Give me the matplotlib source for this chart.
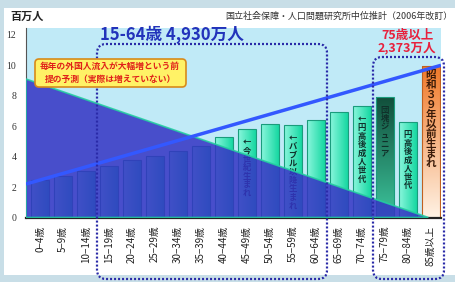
import matplotlib.pyplot as plt
import numpy as np
from matplotlib.colors import LinearSegmentedColormap
from matplotlib.patches import FancyBboxPatch, Polygon, Rectangle

plt.rcParams['font.family'] = ['Noto Sans CJK JP', 'DejaVu Sans']

# ---------------------------------------------------------------------------
# Data
# ---------------------------------------------------------------------------

ages = ["0−4歳", "5−9歳", "10−14歳", "15−19歳", "20−24歳", "25−29歳",
        "30−34歳", "35−39歳", "40−44歳", "45−49歳", "50−54歳", "55−59歳",
        "60−64歳", "65−69歳", "70−74歳", "75−79歳", "80−84歳", "85歳以上"]
population = [2.47, 2.73, 3.08, 3.39, 3.78, 4.05, 4.36, 4.72, 5.3,
              5.8, 6.15, 6.1, 6.4, 6.9, 7.3, 7.9, 6.3, 9.95]

note_ages = ["45−49歳", "55−59歳", "70−74歳", "75−79歳", "80−84歳", "85歳以上"]
note_texts = ["←今世紀生まれ", "←バブル以降生まれ", "←円高後成人世代",
              "団塊ジュニア", "円高後成人世代", "昭和３９年以前生まれ"]

# straight trend line and shaded wedge (x in category units, y in 百万人)
trend_x = [-0.61, 17.45]
trend_y = [2.2, 10.0]
wedge_x = [-0.61, -0.61, 16.9]
wedge_y = [0.0, 9.1, 0.0]

GREEN = ["#8af6dc", "#16d8a2"]
DARK = ["#3cc49c", "#12503c"]
ORANGE = ["#fff2e4", "#f07a2a"]


def gradient_fill(ax, bar, colors, horizontal=False):
    x0, y0 = bar.get_xy()
    w, h = bar.get_width(), bar.get_height()
    cmap = LinearSegmentedColormap.from_list("g", colors)
    grad = np.linspace(0, 1, 64)
    img = grad.reshape(1, -1) if horizontal else grad.reshape(-1, 1)
    im = ax.imshow(img, cmap=cmap, extent=[x0, x0 + w, y0, y0 + h],
                   origin="lower", aspect="auto", zorder=2,
                   interpolation="bilinear")
    im.set_clip_path(bar)


fig = plt.figure(figsize=(4.55, 2.82), dpi=100)
fig.patch.set_facecolor("#c8dee7")

# white panel behind everything
bg = fig.add_axes([0, 0, 1, 1], zorder=-1)
bg.set_xlim(0, 455)
bg.set_ylim(282, 0)
bg.axis("off")
bg.add_patch(Rectangle((4, 8), 451, 267, fc="white", ec="none"))

ax = fig.add_axes([26 / 455, 1 - 217.5 / 282, 415 / 455, 189.5 / 282], zorder=1)
ax.set_facecolor("#c0eaf7")

x = np.arange(len(ages))
bars = ax.bar(x, population, width=0.78, facecolor="none",
              edgecolor="#1a9c7c", linewidth=0.8, zorder=2.5)
for i, bar in enumerate(bars):
    if ages[i] == "75−79歳":
        gradient_fill(ax, bar, DARK)
    elif ages[i] == "85歳以上":
        gradient_fill(ax, bar, ORANGE)
        bar.set_edgecolor("#c06020")
    else:
        gradient_fill(ax, bar, GREEN, horizontal=True)

for age, note in zip(note_ages, note_texts):
    i = ages.index(age)
    big = age == "85歳以上"
    ax.annotate("\n".join(note), (i, population[i]),
                xytext=(0, -3 if big else -6),
                textcoords="offset points", ha="center", va="top",
                fontsize=7.6 if big else 6.0, fontweight="bold",
                linespacing=0.98 if big else 0.94,
                color="#3a1a08" if big else "#10302a", zorder=3)

ax.add_patch(Polygon(np.column_stack([wedge_x, wedge_y]), closed=True,
                     fc="#3434c4", ec="#22d0a0", lw=1.2, alpha=0.86, zorder=4))
ax.plot(trend_x, trend_y, color="#3358ff", lw=2.5, zorder=5,
        solid_capstyle="butt")

ax.set_xlim(-0.61, 17.45)
ax.set_ylim(0, 12.45)
ax.set_xticks(x, ages, rotation=90, fontsize=7)
ax.set_yticks(range(0, 13, 2))
ax.tick_params(axis="x", length=0, pad=6, labelcolor="#222222")
ax.tick_params(axis="y", length=0, pad=7, labelsize=7, labelcolor="#333333")
for lab in ax.get_yticklabels():
    lab.set_family("Liberation Serif")
for side in ("top", "right"):
    ax.spines[side].set_visible(False)
ax.spines["left"].set_color("#555555")
ax.spines["left"].set_linewidth(0.8)
ax.spines["bottom"].set_color("#222222")
ax.spines["bottom"].set_linewidth(1.6)

# ---------------------------------------------------------------------------
# Annotations in pixel space
# ---------------------------------------------------------------------------
ov = fig.add_axes([0, 0, 1, 1], zorder=3)
ov.set_xlim(0, 455)
ov.set_ylim(282, 0)
ov.axis("off")
ov.patch.set_alpha(0)

ov.text(10, 16, "百万人", fontsize=8, fontweight="bold", va="center",
        color="#222222")
ov.text(452, 16, "国立社会保障・人口問題研究所中位推計（2006年改訂）",
        ha="right", va="center", fontsize=6.5, color="#333333")

for (x0, y0, w, h) in [(97, 44, 230, 235), (373, 57, 71, 222)]:
    ov.add_patch(FancyBboxPatch((x0, y0), w, h,
                                boxstyle="round,pad=0,rounding_size=9",
                                fill=False, ec="#2a2aa8", lw=1.6,
                                ls=(0, (0.9, 0.9)), zorder=1))

ov.text(100, 35, "15-64歳 4,930万人", fontsize=12, fontweight="bold",
        va="center", color="#2233bb")
ov.text(407, 42, "75歳以上\n2,373万人", fontsize=9, fontweight="bold",
        ha="center", va="center", color="#e8203c", linespacing=0.95)

ov.add_patch(FancyBboxPatch((35, 59), 151, 28,
                            boxstyle="round,pad=0,rounding_size=4",
                            fc="#fff266", ec="#d88a1a", lw=1.2, zorder=2))
ov.text(110, 66.5, "毎年の外国人流入が大幅増という前", fontsize=6.3,
        fontweight="bold", ha="center", va="center", color="#e0201a", zorder=3)
ov.text(110, 79.5, "提の予測（実際は増えていない）", fontsize=6.3,
        fontweight="bold", ha="center", va="center", color="#e0201a", zorder=3)

fig.savefig("out.png", dpi=100, facecolor=fig.get_facecolor())
